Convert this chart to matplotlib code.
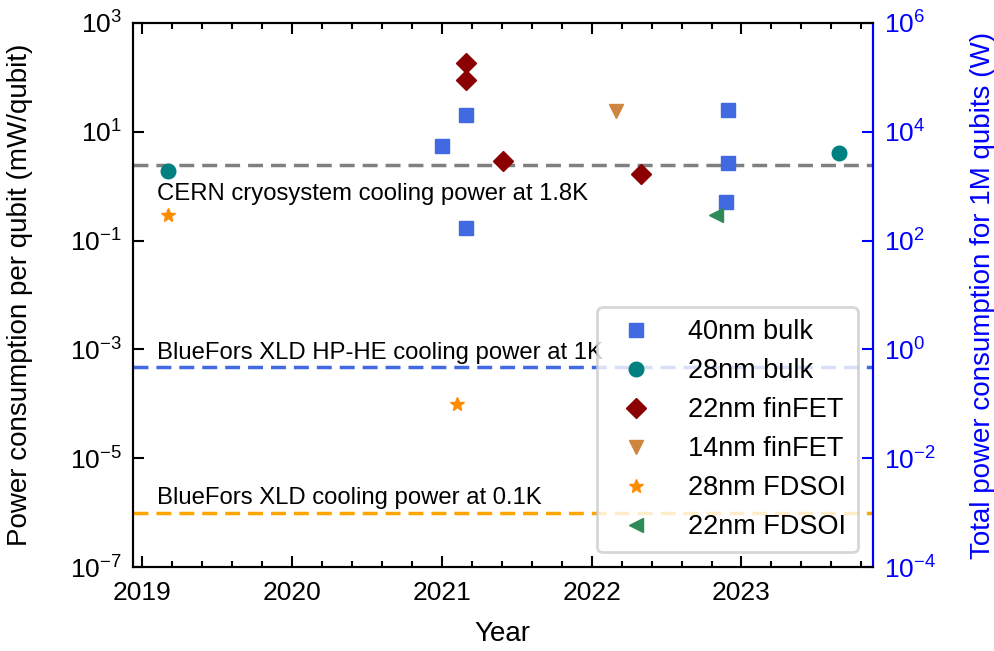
import matplotlib
matplotlib.use("Agg")
import matplotlib.pyplot as plt
import numpy as np

plt.rcParams['font.family'] = ['Liberation Sans', 'DejaVu Sans']
plt.rcParams['axes.linewidth'] = 1.5

# data (year, mW/qubit)
bulk40_year = [2021.0, 2021.16, 2021.16, 2022.91, 2022.91, 2022.90]
bulk40_pow = [5.5, 20, 0.17, 25, 2.7, 0.51]
bulk28_year = [2019.17, 2023.65]
bulk28_pow = [1.93, 4.0]
fin22_year = [2021.16, 2021.16, 2021.41, 2022.33]
fin22_pow = [186, 89, 2.9, 1.67]
fin14_year = [2022.16]
fin14_pow = [24]
fdsoi28_year = [2019.17, 2021.10]
fdsoi28_pow = [0.29, 1.0e-4]
fdsoi22_year = [2022.83]
fdsoi22_pow = [0.29]

ref_levels = [2.45, 4.8e-4, 1.0e-6]
ref_labels = ["CERN cryosystem cooling power at 1.8K",
              "BlueFors XLD HP-HE cooling power at 1K",
              "BlueFors XLD cooling power at 0.1K"]
ref_colors = ["grey", "royalblue", "orange"]
ref_text_y = [0.45, 5.3e-4, 1.15e-6]

fig = plt.figure(figsize=(9.95, 6.51), dpi=100)
ax = fig.add_axes([0.1337, 0.129, 0.877 - 0.1337, 0.9647 - 0.129])

for lvl, c in zip(ref_levels, ref_colors):
    ax.axhline(lvl, color=c, ls=(0, (4.3, 2.3)), lw=2.5, zorder=1)
for lbl, ty in zip(ref_labels, ref_text_y):
    ax.text(2019.1, ty, lbl, fontsize=17.2, va='bottom', ha='left', zorder=2)

ms = 10.5
ax.plot(bulk40_year, bulk40_pow, 's', color='royalblue', ms=ms, ls='none', label='40nm bulk', zorder=3)
ax.plot(bulk28_year, bulk28_pow, 'o', color='teal', ms=ms, ls='none', label='28nm bulk', zorder=3)
ax.plot(fin22_year, fin22_pow, 'D', color='darkred', ms=ms, ls='none', label='22nm finFET', zorder=3)
ax.plot(fin14_year, fin14_pow, 'v', color='peru', ms=ms, ls='none', label='14nm finFET', zorder=3)
ax.plot(fdsoi28_year, fdsoi28_pow, '*', color='darkorange', ms=ms, ls='none', label='28nm FDSOI', zorder=3)
ax.plot(fdsoi22_year, fdsoi22_pow, '<', color='seagreen', ms=ms, ls='none', label='22nm FDSOI', zorder=3)

ax.set_yscale('log')
ax.set_ylim(1e-7, 1e3)
ax.set_yticks([1e-7, 1e-5, 1e-3, 1e-1, 1e1, 1e3])
ax.yaxis.set_minor_locator(matplotlib.ticker.NullLocator())
ax.set_xlim(2018.94, 2023.875)
ax.set_xticks([2019, 2020, 2021, 2022, 2023])
ax.xaxis.set_minor_locator(matplotlib.ticker.MultipleLocator(0.2))
ax.tick_params(which='both', direction='in', top=True, right=False, labelsize=19, width=1.5)
ax.tick_params(which='major', length=8)
ax.tick_params(which='minor', length=4.5)
ax.tick_params(axis='x', which='major', pad=10)
ax.tick_params(axis='y', which='major', pad=8)
ax.set_xlabel('Year', fontsize=20)
ax.set_ylabel('Power consumption per qubit (mW/qubit)', fontsize=20)
ax.xaxis.set_label_coords(0.5, -0.10)
ax.yaxis.set_label_coords(-0.135, 0.5)

ax2 = ax.twinx()
ax2.set_yscale('log')
ax2.set_ylim(1e-4, 1e6)
ax2.set_yticks([1e-4, 1e-2, 1e0, 1e2, 1e4, 1e6])
ax2.yaxis.set_minor_locator(matplotlib.ticker.NullLocator())
ax2.tick_params(axis='y', direction='in', colors='blue', labelsize=19, length=8, width=1.5, pad=8)
ax2.spines['right'].set_color('blue')
ax2.set_ylabel('Total power consumption for 1M qubits (W)', fontsize=20, color='blue')
ax2.yaxis.set_label_coords(1.131, 0.5)

leg = ax.legend(loc='lower right', fontsize=19.5, borderaxespad=0.55, labelspacing=0.48,
                handletextpad=0.9, borderpad=0.44, fancybox=True)
leg.get_frame().set_linewidth(2)
leg.set_zorder(10)

fig.savefig('out.png', dpi=100)
